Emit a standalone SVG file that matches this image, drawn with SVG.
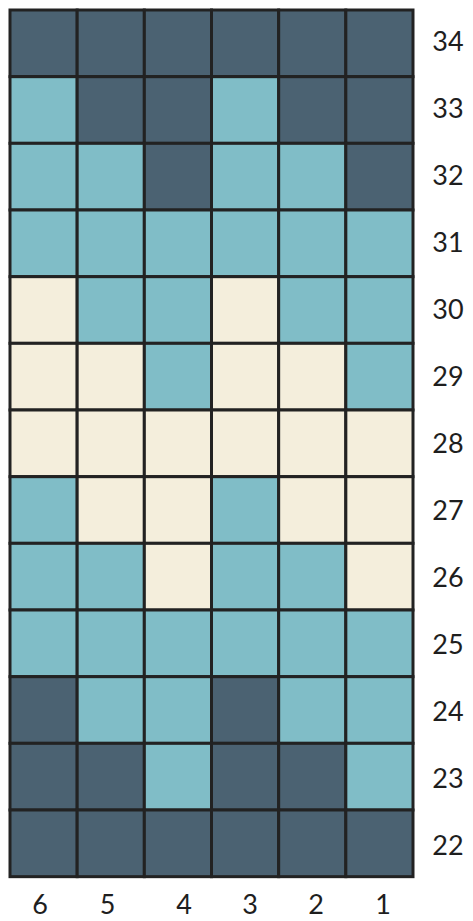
<svg xmlns="http://www.w3.org/2000/svg" width="473" height="921" viewBox="0 0 473 921">
<style>
.d{fill:#4b6272}.t{fill:#80bdc7}.c{fill:#f4eedc}
.d,.t,.c{stroke:#222;stroke-width:3}
text{font-family:Lato,"Liberation Sans",sans-serif;font-size:27px;fill:#1e1e1e;text-anchor:middle}
</style>
<rect x="0" y="0" width="473" height="921" fill="#fff"/>
<g id="grid">
<g id="row34"><rect class="d" x="10" y="10" width="67.17" height="66.67"/><rect class="d" x="77.17" y="10" width="67.17" height="66.67"/><rect class="d" x="144.33" y="10" width="67.17" height="66.67"/><rect class="d" x="211.5" y="10" width="67.17" height="66.67"/><rect class="d" x="278.67" y="10" width="67.17" height="66.67"/><rect class="d" x="345.83" y="10" width="67.17" height="66.67"/></g>
<g id="row33"><rect class="t" x="10" y="76.67" width="67.17" height="66.67"/><rect class="d" x="77.17" y="76.67" width="67.17" height="66.67"/><rect class="d" x="144.33" y="76.67" width="67.17" height="66.67"/><rect class="t" x="211.5" y="76.67" width="67.17" height="66.67"/><rect class="d" x="278.67" y="76.67" width="67.17" height="66.67"/><rect class="d" x="345.83" y="76.67" width="67.17" height="66.67"/></g>
<g id="row32"><rect class="t" x="10" y="143.33" width="67.17" height="66.67"/><rect class="t" x="77.17" y="143.33" width="67.17" height="66.67"/><rect class="d" x="144.33" y="143.33" width="67.17" height="66.67"/><rect class="t" x="211.5" y="143.33" width="67.17" height="66.67"/><rect class="t" x="278.67" y="143.33" width="67.17" height="66.67"/><rect class="d" x="345.83" y="143.33" width="67.17" height="66.67"/></g>
<g id="row31"><rect class="t" x="10" y="210" width="67.17" height="66.67"/><rect class="t" x="77.17" y="210" width="67.17" height="66.67"/><rect class="t" x="144.33" y="210" width="67.17" height="66.67"/><rect class="t" x="211.5" y="210" width="67.17" height="66.67"/><rect class="t" x="278.67" y="210" width="67.17" height="66.67"/><rect class="t" x="345.83" y="210" width="67.17" height="66.67"/></g>
<g id="row30"><rect class="c" x="10" y="276.67" width="67.17" height="66.67"/><rect class="t" x="77.17" y="276.67" width="67.17" height="66.67"/><rect class="t" x="144.33" y="276.67" width="67.17" height="66.67"/><rect class="c" x="211.5" y="276.67" width="67.17" height="66.67"/><rect class="t" x="278.67" y="276.67" width="67.17" height="66.67"/><rect class="t" x="345.83" y="276.67" width="67.17" height="66.67"/></g>
<g id="row29"><rect class="c" x="10" y="343.33" width="67.17" height="66.67"/><rect class="c" x="77.17" y="343.33" width="67.17" height="66.67"/><rect class="t" x="144.33" y="343.33" width="67.17" height="66.67"/><rect class="c" x="211.5" y="343.33" width="67.17" height="66.67"/><rect class="c" x="278.67" y="343.33" width="67.17" height="66.67"/><rect class="t" x="345.83" y="343.33" width="67.17" height="66.67"/></g>
<g id="row28"><rect class="c" x="10" y="410" width="67.17" height="66.67"/><rect class="c" x="77.17" y="410" width="67.17" height="66.67"/><rect class="c" x="144.33" y="410" width="67.17" height="66.67"/><rect class="c" x="211.5" y="410" width="67.17" height="66.67"/><rect class="c" x="278.67" y="410" width="67.17" height="66.67"/><rect class="c" x="345.83" y="410" width="67.17" height="66.67"/></g>
<g id="row27"><rect class="t" x="10" y="476.67" width="67.17" height="66.67"/><rect class="c" x="77.17" y="476.67" width="67.17" height="66.67"/><rect class="c" x="144.33" y="476.67" width="67.17" height="66.67"/><rect class="t" x="211.5" y="476.67" width="67.17" height="66.67"/><rect class="c" x="278.67" y="476.67" width="67.17" height="66.67"/><rect class="c" x="345.83" y="476.67" width="67.17" height="66.67"/></g>
<g id="row26"><rect class="t" x="10" y="543.33" width="67.17" height="66.67"/><rect class="t" x="77.17" y="543.33" width="67.17" height="66.67"/><rect class="c" x="144.33" y="543.33" width="67.17" height="66.67"/><rect class="t" x="211.5" y="543.33" width="67.17" height="66.67"/><rect class="t" x="278.67" y="543.33" width="67.17" height="66.67"/><rect class="c" x="345.83" y="543.33" width="67.17" height="66.67"/></g>
<g id="row25"><rect class="t" x="10" y="610" width="67.17" height="66.67"/><rect class="t" x="77.17" y="610" width="67.17" height="66.67"/><rect class="t" x="144.33" y="610" width="67.17" height="66.67"/><rect class="t" x="211.5" y="610" width="67.17" height="66.67"/><rect class="t" x="278.67" y="610" width="67.17" height="66.67"/><rect class="t" x="345.83" y="610" width="67.17" height="66.67"/></g>
<g id="row24"><rect class="d" x="10" y="676.67" width="67.17" height="66.67"/><rect class="t" x="77.17" y="676.67" width="67.17" height="66.67"/><rect class="t" x="144.33" y="676.67" width="67.17" height="66.67"/><rect class="d" x="211.5" y="676.67" width="67.17" height="66.67"/><rect class="t" x="278.67" y="676.67" width="67.17" height="66.67"/><rect class="t" x="345.83" y="676.67" width="67.17" height="66.67"/></g>
<g id="row23"><rect class="d" x="10" y="743.33" width="67.17" height="66.67"/><rect class="d" x="77.17" y="743.33" width="67.17" height="66.67"/><rect class="t" x="144.33" y="743.33" width="67.17" height="66.67"/><rect class="d" x="211.5" y="743.33" width="67.17" height="66.67"/><rect class="d" x="278.67" y="743.33" width="67.17" height="66.67"/><rect class="t" x="345.83" y="743.33" width="67.17" height="66.67"/></g>
<g id="row22"><rect class="d" x="10" y="810" width="67.17" height="66.67"/><rect class="d" x="77.17" y="810" width="67.17" height="66.67"/><rect class="d" x="144.33" y="810" width="67.17" height="66.67"/><rect class="d" x="211.5" y="810" width="67.17" height="66.67"/><rect class="d" x="278.67" y="810" width="67.17" height="66.67"/><rect class="d" x="345.83" y="810" width="67.17" height="66.67"/></g>
</g>
<g id="row-labels">
<text x="448" y="51">34</text>
<text x="448" y="118">33</text>
<text x="448" y="185">32</text>
<text x="448" y="252">31</text>
<text x="448" y="319">30</text>
<text x="448" y="386">29</text>
<text x="448" y="453">28</text>
<text x="448" y="520">27</text>
<text x="448" y="587">26</text>
<text x="448" y="654">25</text>
<text x="448" y="721">24</text>
<text x="448" y="788">23</text>
<text x="448" y="855">22</text>
</g>
<g id="col-labels">
<text x="40" y="914">6</text>
<text x="107.5" y="914">5</text>
<text x="184" y="914">4</text>
<text x="250" y="914">3</text>
<text x="316" y="914">2</text>
<text x="383" y="914">1</text>
</g>
</svg>
